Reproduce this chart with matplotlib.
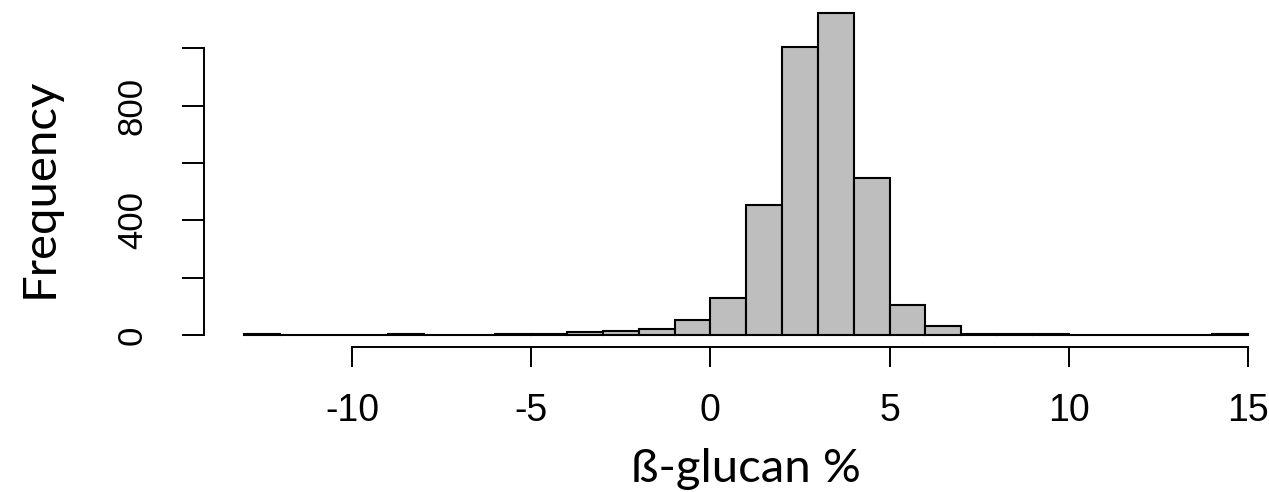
import matplotlib
matplotlib.use('Agg')
import matplotlib.pyplot as plt
import numpy as np

# bin left edges (width 1) and counts
bin_left = np.arange(-13, 15)
counts = [4, 0, 0, 0, 3, 0, 0, 3, 4, 12, 13, 22, 52,
          129, 453, 1004, 1123, 546, 105, 30, 3, 3, 3,
          0, 0, 0, 0, 4]
xticks = [-10, -5, 0, 5, 10, 15]
yticks = [0, 200, 400, 600, 800, 1000]
ylabels = ['0', '', '400', '', '800', '']

fig = plt.figure(figsize=(12.69, 4.92), dpi=100)
ax = fig.add_axes([244.5/1269, 157/492, 1003.5/1269, 1150*0.2867/492])

ax.bar(bin_left, counts, width=1, align='edge', color='#bebebe',
       edgecolor='black', linewidth=1.5, clip_on=False)

ax.set_xlim(-13, 15)
ax.set_ylim(0, 1150)

for s in ['top', 'right']:
    ax.spines[s].set_visible(False)
ax.spines['left'].set_position(('outward', 29))
ax.spines['left'].set_bounds(0, 1000)
ax.spines['bottom'].set_position(('outward', 8.6))
ax.spines['bottom'].set_bounds(-10, 15)
for s in ['left', 'bottom']:
    ax.spines[s].set_linewidth(1.4)

ax.set_xticks(xticks)
ax.set_xticklabels([str(t) for t in xticks], fontsize=27)
ax.set_yticks(yticks)
ax.set_yticklabels(ylabels, fontsize=25, rotation=90, va='center')
ax.tick_params(axis='x', length=14.4, width=1.4, pad=19)
ax.tick_params(axis='y', length=15.8, width=1.4, pad=24)
ax.tick_params(labelfontfamily='Liberation Sans')

fig.text(746/1269, 10/492, 'ß-glucan %', family='Lato', fontsize=34,
         ha='center', va='baseline')
fig.text(53/1269, 304.5/492, 'Frequency', family='Lato', fontsize=34,
         rotation=90, ha='center', va='baseline', rotation_mode='anchor')

fig.savefig('out.png', dpi=100)
